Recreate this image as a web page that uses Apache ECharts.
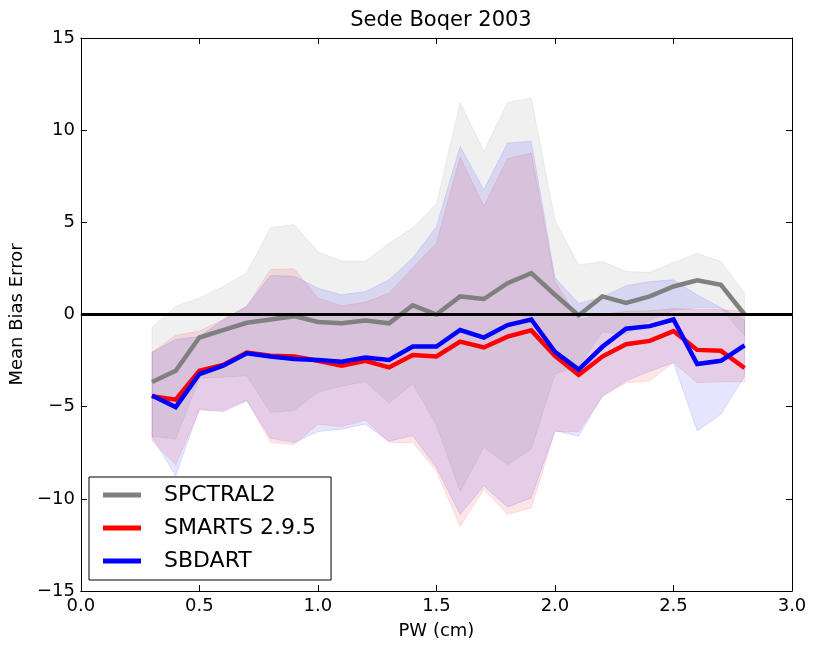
<!DOCTYPE html>
<html><head><meta charset="utf-8">
<script src="https://cdn.jsdelivr.net/npm/echarts@6/dist/echarts.min.js"></script>
<style>html,body{margin:0;padding:0;background:#fff}#c{width:814px;height:646px}</style>
</head><body><div id="c"></div><script>
const pw = [0.3,0.4,0.5,0.6,0.7,0.8,0.9,1.0,1.1,1.2,1.3,1.4,1.5,1.6,1.7,1.8,1.9,2.0,2.1,2.2,2.3,2.4,2.5,2.6,2.7,2.8];

const spctral2 = [-3.66,-3.05,-1.25,-0.85,-0.45,-0.27,-0.09,-0.41,-0.48,-0.32,-0.48,0.5,0,0.98,0.84,1.7,2.24,1.07,-0.05,0.98,0.63,0.98,1.52,1.85,1.61,0];
const spctral2High = [-0.7,0.45,0.9,1.52,2.27,4.7,4.88,3.4,2.9,2.9,3.85,4.7,6.0,11.5,8.85,11.5,11.75,5.1,2.69,2.87,2.33,2.29,2.81,3.32,2.87,1.16];
const spctral2Low = [-6.6,-6.75,-3.46,-3.4,-3.32,-5.32,-5.2,-4.21,-3.89,-3.64,-4.8,-3.76,-6.0,-9.6,-7.2,-8.15,-7.3,-3.23,-2.79,-0.95,-1.07,-0.33,0.23,0.38,0.35,-1.16];

const smarts = [-4.43,-4.62,-3.05,-2.74,-2.06,-2.24,-2.28,-2.51,-2.78,-2.51,-2.87,-2.2,-2.28,-1.47,-1.79,-1.2,-0.86,-2.24,-3.28,-2.28,-1.61,-1.43,-0.9,-1.92,-1.97,-2.9];
const smartsHigh = [-2.05,-1.13,-0.9,-0.27,0.45,2.44,2.48,0.9,0.48,0.66,1.17,2.53,3.88,8.55,5.87,8.45,8.77,1.8,-0.27,0,0.18,0.2,0.32,0.27,0.27,0.16];
const smartsLow = [-6.85,-8.15,-5.2,-5.2,-4.65,-6.95,-7.05,-5.95,-6.08,-5.72,-6.95,-6.95,-8.5,-11.5,-9.5,-10.85,-10.5,-6.35,-6.35,-4.45,-3.7,-3.6,-2.6,-3.7,-3.65,-3.65];

const sbdart = [-4.39,-5.02,-3.23,-2.78,-2.1,-2.28,-2.42,-2.47,-2.56,-2.33,-2.47,-1.74,-1.74,-0.84,-1.25,-0.57,-0.27,-2.02,-2.99,-1.75,-0.77,-0.63,-0.27,-2.69,-2.51,-1.67];
const sbdartHigh = [-2.05,-1.35,-1.2,-0.3,0.45,2.12,2.08,1.43,1.07,1.25,1.88,3.07,4.78,9.12,6.77,9.3,9.4,2.0,0.6,0.95,1.56,1.79,1.88,1.07,0.36,-0.3];
const sbdartLow = [-6.65,-8.75,-5.12,-5.28,-4.68,-6.72,-6.95,-6.35,-6.22,-5.95,-6.87,-6.58,-8.3,-10.85,-9.3,-10.45,-9.95,-6.3,-6.6,-4.42,-3.6,-3.08,-2.62,-6.32,-5.42,-3.35];

const xTicks = [0, 0.5, 1.0, 1.5, 2.0, 2.5, 3.0];
const yTicks = [-15, -10, -5, 0, 5, 10, 15];

const FONT = 'DejaVu Sans';
const chart = echarts.init(document.getElementById('c'), null, {renderer:'canvas'});

function band(low, high, rgb, alpha) {
  return {
    type: 'custom',
    silent: true,
    z: 1,
    xAxisIndex: 0, yAxisIndex: 0,
    data: pw.map((x, i) => [x, low[i], high[i]]),
    encode: {x: 0, y: [1, 2]},
    renderItem: function (params, api) {
      if (params.dataIndex !== 0) return null;
      const pts = [];
      for (let i = 0; i < pw.length; i++) pts.push(api.coord([pw[i], high[i]]));
      for (let i = pw.length - 1; i >= 0; i--) pts.push(api.coord([pw[i], low[i]]));
      return {
        type: 'polygon',
        shape: {points: pts},
        style: {fill: 'rgba(' + rgb + ',' + alpha + ')', stroke: 'rgba(' + rgb + ',' + alpha + ')', lineWidth: 1}
      };
    }
  };
}

function line(name, vals, color, z) {
  return {
    name: name, type: 'line', z: z,
    xAxisIndex: 0, yAxisIndex: 0,
    data: pw.map((x, i) => [x, vals[i]]),
    symbol: 'none', smooth: false,
    lineStyle: {color: color, width: 4.5, join: 'miter'},
    itemStyle: {color: color},
    emphasis: {disabled: true}
  };
}

const fmtX = v => v.toFixed(1);
const fmtY = v => v < 0 ? '\u2212' + (-v) : String(v);

const common = {
  min: 0, max: 3, interval: 0.5, type: 'value',
  axisLine: {show: true, onZero: false, lineStyle: {color: '#000', width: 1}},
  axisTick: {show: true, inside: true, length: 6, lineStyle: {color: '#000', width: 1}},
  splitLine: {show: false}
};
const commonY = {
  min: -15, max: 15, interval: 5, type: 'value',
  axisLine: {show: true, onZero: false, lineStyle: {color: '#000', width: 1}},
  axisTick: {show: true, inside: true, length: 6, lineStyle: {color: '#000', width: 1}},
  splitLine: {show: false}
};

chart.setOption({
  animation: false,
  backgroundColor: '#fff',
  title: {
    text: 'Sede Boqer 2003', left: 436, top: 5, textAlign: 'center',
    textStyle: {fontFamily: FONT, fontSize: 21, fontWeight: 'normal', color: '#000'}
  },
  grid: {left: 80, right: 22, top: 38, bottom: 55, containLabel: false},
  xAxis: [
    Object.assign({}, common, {
      position: 'bottom',
      name: 'PW (cm)', nameLocation: 'middle', nameGap: 31,
      nameTextStyle: {fontFamily: FONT, fontSize: 18, color: '#000'},
      axisLabel: {show: true, margin: 6, fontFamily: FONT, fontSize: 18, color: '#000', formatter: fmtX}
    }),
    Object.assign({}, common, {position: 'top', axisLabel: {show: false}})
  ],
  yAxis: [
    Object.assign({}, commonY, {
      position: 'left',
      name: 'Mean Bias Error', nameLocation: 'middle', nameGap: 49,
      nameTextStyle: {fontFamily: FONT, fontSize: 18, color: '#000'},
      axisLabel: {show: true, margin: 6, fontFamily: FONT, fontSize: 18, color: '#000', formatter: fmtY}
    }),
    Object.assign({}, commonY, {position: 'right', axisLabel: {show: false}})
  ],
  legend: {
    data: ['SPCTRAL2', 'SMARTS 2.9.5', 'SBDART'],
    orient: 'vertical', left: 89, top: 477,
    backgroundColor: '#fff', borderColor: '#000', borderWidth: 1, borderRadius: 0,
    padding: [5, 15, 6, 14],
    itemWidth: 38, itemHeight: 5, itemGap: 7, icon: 'rect',
    textStyle: {fontFamily: FONT, fontSize: 22, color: '#000', lineHeight: 26, padding: [0, 0, 0, 18]}
  },
  series: [
    band(spctral2Low, spctral2High, '128,128,128', 0.12),
    band(smartsLow, smartsHigh, '255,0,0', 0.1),
    band(sbdartLow, sbdartHigh, '0,0,255', 0.1),
    {
      type: 'line', data: [], silent: true, z: 3,
      markLine: {
        silent: true, symbol: 'none', label: {show: false},
        lineStyle: {color: '#000', width: 3, type: 'solid'},
        data: [{yAxis: 0}]
      }
    },
    line('SPCTRAL2', spctral2, '#808080', 4),
    line('SMARTS 2.9.5', smarts, '#ff0000', 5),
    line('SBDART', sbdart, '#0000ff', 6)
  ]
});
</script></body></html>
